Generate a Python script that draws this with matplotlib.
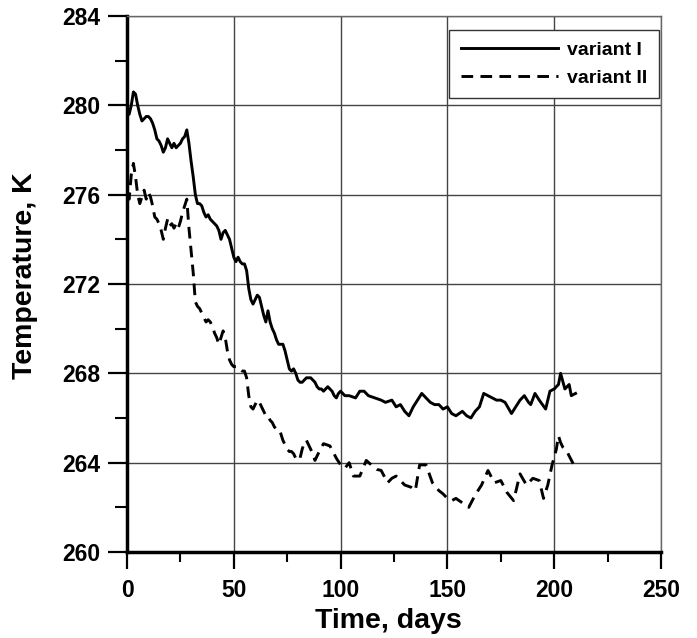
import matplotlib.pyplot as plt
from matplotlib.ticker import MultipleLocator

# variant I (solid)
days_1 = [0, 1, 2, 3, 4, 5, 6, 7, 8, 9, 10, 11, 12, 13, 14, 15, 16, 17, 18, 19,
          20, 21, 22, 23, 24, 25, 26, 27, 28, 29, 30, 31, 32, 33, 34, 35, 36, 37, 38, 39,
          40, 41, 42, 43, 44, 45, 46, 47, 48, 49, 50, 51, 52, 53, 54, 55, 56, 57, 58, 59,
          60, 61, 62, 63, 64, 65, 66, 67, 68, 69, 70, 71, 72, 73, 74, 75, 76, 77, 78, 79,
          80, 81, 82, 83, 84, 85, 86, 87, 88, 89, 90, 91, 92, 93, 94, 95, 96, 97, 98, 99,
          100, 102, 104, 107, 109, 111, 113, 116, 119, 121, 124, 126, 128, 130, 132, 134,
          136, 138, 140, 142, 144, 146, 148, 150, 152, 154, 157, 159, 161, 163, 165, 167,
          169, 171, 173, 175, 177, 180, 182, 184, 186, 188, 189, 191, 193, 196, 198, 200,
          202, 203, 205, 206, 207, 208, 210]
temp_1 = [279.8, 279.6, 280.0, 280.6, 280.5, 280.0, 279.6, 279.3, 279.4, 279.5,
          279.5, 279.4, 279.2, 278.9, 278.5, 278.4, 278.2, 277.9, 278.1, 278.5,
          278.3, 278.1, 278.3, 278.1, 278.2, 278.3, 278.5, 278.6, 278.9, 278.3,
          277.5, 276.8, 276.0, 275.6, 275.6, 275.5, 275.2, 275.0, 275.1, 274.9,
          274.8, 274.7, 274.6, 274.4, 274.0, 274.3, 274.4, 274.2, 274.0, 273.6,
          273.2, 273.0, 273.2, 273.0, 272.9, 272.9, 272.6, 271.8, 271.3, 271.1,
          271.3, 271.5, 271.4, 271.0, 270.6, 270.3, 270.8, 270.3, 270.0, 269.8,
          269.5, 269.3, 269.3, 269.3, 269.0, 268.6, 268.2, 268.1, 268.2, 268.0,
          267.7, 267.6, 267.6, 267.7, 267.8, 267.8, 267.8, 267.7, 267.6, 267.4,
          267.3, 267.3, 267.2, 267.3, 267.4, 267.3, 267.2, 267.0, 266.9, 267.1,
          267.2, 267.0, 267.0, 266.9, 267.2, 267.2, 267.0, 266.9, 266.8, 266.7,
          266.8, 266.5, 266.6, 266.3, 266.1, 266.5, 266.8, 267.1, 266.9, 266.7,
          266.6, 266.6, 266.4, 266.5, 266.2, 266.1, 266.3, 266.1, 266.0, 266.3,
          266.5, 267.1, 267.0, 266.9, 266.8, 266.8, 266.7, 266.2, 266.5, 266.8,
          267.0, 266.7, 266.6, 267.1, 266.8, 266.4, 267.2, 267.3, 267.5, 268.0,
          267.3, 267.4, 267.5, 267.0, 267.1]

# variant II (dashed)
days_2 = [0, 1, 2, 3, 4, 5, 6, 7, 8, 9, 10, 11, 12, 13, 14, 15, 16, 17, 18, 19,
          20, 21, 22, 23, 24, 25, 26, 27, 28, 29, 30, 31, 32, 33, 34, 35, 36, 37, 38, 39,
          40, 41, 42, 43, 44, 45, 46, 47, 48, 49, 50, 51, 52, 53, 54, 55, 56, 57, 58, 59,
          60, 61, 62, 63, 64, 65, 66, 67, 68, 69, 70, 71, 72, 73, 74, 75, 76, 77, 78, 79,
          80, 81, 82, 83, 84, 85, 86, 87, 88, 90, 92, 95, 98, 100, 102, 104, 106, 109,
          112, 115, 117, 119, 122, 124, 126, 128, 130, 133, 135, 137, 140, 143, 146,
          148, 150, 152, 154, 157, 160, 163, 166, 169, 172, 175, 178, 181, 184, 187,
          190, 193, 195, 197, 199, 201, 202, 203, 204, 206, 207, 210]
temp_2 = [276.0, 275.8, 276.9, 277.4, 276.8, 276.0, 275.6, 275.9, 276.2, 275.8,
          276.1, 275.9, 275.5, 275.0, 274.9, 274.7, 274.4, 274.0, 274.5, 274.9,
          274.6, 274.7, 274.5, 274.7, 274.5, 274.8, 275.2, 275.5, 275.8, 274.5,
          273.5, 272.5, 271.2, 271.0, 270.9, 270.7, 270.5, 270.3, 270.4, 270.3,
          270.1, 269.8, 269.6, 269.3, 269.6, 269.9, 269.6, 269.0, 268.6, 268.4,
          268.3, 268.3, 268.2, 268.2, 268.1, 268.1, 267.8, 267.0, 266.5, 266.4,
          266.6, 266.8, 266.7, 266.5, 266.3, 266.1, 266.1, 265.9, 265.8, 265.6,
          265.5, 265.5, 265.3, 265.0, 264.8, 264.6, 264.5, 264.5, 264.4, 264.2,
          264.1, 264.2, 264.6, 264.9, 265.0, 264.8, 264.6, 264.4, 264.1, 264.5,
          264.85, 264.75, 264.2, 263.9, 263.75, 264.0, 263.4, 263.4, 264.1, 263.85,
          263.7, 263.65, 263.1, 263.3, 263.4, 263.2, 263.0, 262.9, 262.75, 263.9,
          263.9, 263.1, 262.75, 262.6, 262.4, 262.3, 262.4, 262.2, 262.0, 262.55,
          263.0, 263.65, 263.1, 263.2, 262.65, 262.3, 263.5, 263.0, 263.3, 263.2,
          262.4, 263.0, 263.9, 264.6, 265.2, 264.9, 264.7, 264.5, 264.3, 263.75]

plt.rcParams['font.family'] = ['Liberation Sans', 'DejaVu Sans']
plt.rcParams['font.weight'] = 'bold'

fig = plt.figure(figsize=(6.97, 6.38), dpi=100)
ax = fig.add_axes([127 / 697, 1 - 552 / 638, 534 / 697, 536 / 638])

ax.plot(days_1, temp_1, color='black', linewidth=2.1, label='variant I')
ax.plot(days_2, temp_2, color='black', linewidth=2.1, linestyle=(0, (4, 2.5)),
        label='variant II')

ax.set_xlim(0, 250)
ax.set_ylim(260, 284)
ax.xaxis.set_major_locator(MultipleLocator(50))
ax.xaxis.set_minor_locator(MultipleLocator(25))
ax.yaxis.set_major_locator(MultipleLocator(4))
ax.yaxis.set_minor_locator(MultipleLocator(2))
ax.grid(True, which='major', color='#444444', linewidth=1.0)
ax.set_axisbelow(True)

ax.tick_params(axis='y', which='major', direction='out', length=14, width=1.6, pad=5, labelsize=16.5)
ax.tick_params(axis='y', which='minor', direction='out', length=8.5, width=1.5)
ax.tick_params(axis='x', which='major', direction='out', length=12.5, width=1.6, pad=7, labelsize=16.5)
ax.tick_params(axis='x', which='minor', direction='out', length=7, width=1.5)
ax.tick_params(which='both', top=False, right=False)
for lab in ax.get_xticklabels() + ax.get_yticklabels():
    lab.set_fontweight('bold')

ax.spines['left'].set_linewidth(2.5)
ax.spines['bottom'].set_linewidth(2.5)
ax.spines['top'].set_linewidth(1.0)
ax.spines['right'].set_linewidth(1.0)
ax.spines['top'].set_color('#666666')
ax.spines['right'].set_color('#666666')

ax.set_xlabel('Time, days', fontsize=20.5, fontweight='bold')
ax.set_ylabel('Temperature, K', fontsize=20.5, fontweight='bold')
ax.xaxis.set_label_coords(0.489, -0.104)
ax.yaxis.set_label_coords(-0.167, 0.515)

leg = ax.legend(loc='upper right', bbox_to_anchor=(0.996, 0.974), fontsize=14,
                handlelength=5.0, fancybox=False, framealpha=1, edgecolor='#333333',
                borderaxespad=0, borderpad=0.6, handletextpad=0.45, labelspacing=0.5)
leg.get_frame().set_linewidth(1.0)

plt.savefig('out.png', dpi=100)
